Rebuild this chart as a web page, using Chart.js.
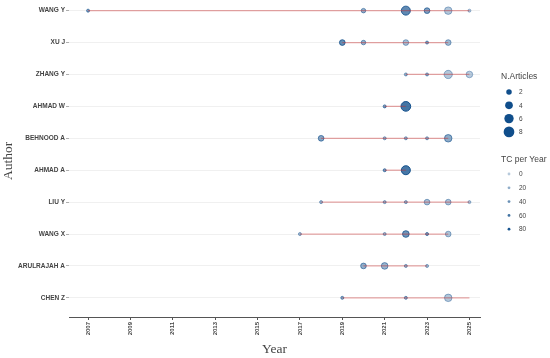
<!DOCTYPE html>
<html>
<head>
<meta charset="utf-8">
<script src="https://cdn.jsdelivr.net/npm/chart.js@4.4.1/dist/chart.umd.min.js"></script>
<style>
  html, body { margin: 0; padding: 0; background: #fff; }
  #wrap { width: 550px; height: 358px; }
</style>
</head>
<body>
<div id="wrap"><canvas id="chart" width="550" height="358"></canvas></div>
<script>
// Data
const authors = ['WANG Y', 'XU J', 'ZHANG Y', 'AHMAD W', 'BEHNOOD A', 'AHMAD A', 'LIU Y', 'WANG X', 'ARULRAJAH A', 'CHEN Z'];

const yearsByAuthor = [
    [2007, 2020, 2022, 2023, 2024, 2025],
    [2019, 2020, 2022, 2023, 2024],
    [2022, 2023, 2024, 2025],
    [2021, 2022],
    [2018, 2021, 2022, 2023, 2024],
    [2021, 2022],
    [2018, 2021, 2022, 2023, 2024, 2025],
    [2017, 2021, 2022, 2023, 2024],
    [2020, 2021, 2022, 2023],
    [2019, 2022, 2024]
];

const articlesByAuthor = [
    [1, 2, 7, 3, 5, 1],
    [3, 2, 3, 1, 3],
    [1, 1, 6, 4],
    [1, 8],
    [3, 1, 1, 1, 5],
    [1, 7],
    [1, 1, 1, 3, 3, 1],
    [1, 1, 4, 1, 3],
    [3, 4, 1, 1],
    [1, 1, 5]
];

const tcPerYearByAuthor = [
    [40, 30, 65, 45, 12, 8],
    [60, 30, 18, 35, 22],
    [25, 28, 12, 8],
    [45, 82],
    [40, 25, 25, 25, 35],
    [45, 80],
    [22, 25, 25, 18, 15, 10],
    [20, 22, 55, 45, 14],
    [32, 28, 25, 20],
    [35, 32, 12]
];

// first and last year of each author's red line
const lineStart = [2007, 2019, 2022, 2021, 2018, 2021, 2018, 2017, 2020, 2019];
const lineEnd = [2025, 2024, 2025, 2022, 2024, 2022, 2025, 2024, 2023, 2025];

const yearTicks = [2007, 2009, 2011, 2013, 2015, 2017, 2019, 2021, 2023, 2025];
const articleLegend = [2, 4, 6, 8];
const tcLegend = [0, 20, 40, 60, 80];

// Mappings (size ~ sqrt of articles, alpha ~ TC per year)
const BLUE = '16, 78, 139';
function radiusFor(n) {
    return 0.17 + 1.83 * Math.sqrt(n) - 0.5;
}
function alphaFor(tc) {
    return Math.min(1, 0.3 + 0.7 * tc / 85);
}
function blue(a) {
    return `rgba(${BLUE}, ${a})`;
}

// Build datasets
const lineSets = authors.map((name, i) => ({
    type: 'line',
    label: name,
    data: [{ x: lineStart[i], y: i }, { x: lineEnd[i], y: i }],
    borderColor: 'rgba(200, 45, 45, 0.42)',
    borderWidth: 1.3,
    pointRadius: 0,
    order: 0
}));

const points = [];
authors.forEach((name, i) => {
    yearsByAuthor[i].forEach((yr, j) => {
        points.push({ x: yr, y: i, n: articlesByAuthor[i][j], tc: tcPerYearByAuthor[i][j] });
    });
});

const pointSet = {
    type: 'scatter',
    label: 'points',
    data: points,
    pointRadius: ctx => radiusFor(ctx.raw.n),
    pointBackgroundColor: ctx => blue(alphaFor(ctx.raw.tc) * 0.8),
    pointBorderColor: ctx => blue(alphaFor(ctx.raw.tc)),
    pointBorderWidth: 1,
    order: 1
};

// Legend drawn on the right side
const sideLegend = {
    id: 'sideLegend',
    afterDraw(chart) {
        const c = chart.ctx;
        c.save();
        c.fillStyle = '#444';
        c.textBaseline = 'middle';
        c.textAlign = 'left';
        c.font = '8.5px "Liberation Sans", Arial, sans-serif';
        c.fillText('N.Articles', 501, 77);
        c.font = '6.5px "Liberation Sans", Arial, sans-serif';
        articleLegend.forEach((n, k) => {
            const y = 92 + k * 13.3;
            c.beginPath();
            c.arc(509, y, radiusFor(n) + 0.5, 0, Math.PI * 2);
            c.fillStyle = blue(1);
            c.fill();
            c.fillStyle = '#444';
            c.fillText(String(n), 519, y + 0.5);
        });

        c.font = '8.5px "Liberation Sans", Arial, sans-serif';
        c.fillText('TC per Year', 501, 160);
        c.font = '6.5px "Liberation Sans", Arial, sans-serif';
        tcLegend.forEach((tc, k) => {
            const y = 174 + k * 13.8;
            c.beginPath();
            c.arc(509, y, 1.4, 0, Math.PI * 2);
            c.fillStyle = blue(alphaFor(tc));
            c.fill();
            c.fillStyle = '#444';
            c.fillText(String(tc), 519, y + 0.5);
        });
        c.restore();
    }
};

new Chart(document.getElementById('chart'), {
    type: 'scatter',
    data: { datasets: [...lineSets, pointSet] },
    options: {
        responsive: false,
        animation: false,
        layout: { autoPadding: false, padding: { left: 0, right: 70, top: 0, bottom: 0 } },
        plugins: {
            legend: { display: false },
            tooltip: { enabled: false }
        },
        scales: {
            x: {
                type: 'linear',
                min: 2006.1,
                max: 2025.5,
                afterBuildTicks: s => { s.ticks = yearTicks.map(v => ({ value: v })); },
                afterFit: s => { s.height = 41; },
                ticks: {
                    autoSkip: false,
                    minRotation: 90,
                    maxRotation: 90,
                    padding: 2,
                    color: '#444',
                    font: { family: '"Liberation Sans", Arial, sans-serif', size: 6, weight: 'bold' },
                    callback: v => String(v)
                },
                grid: { drawOnChartArea: false, drawTicks: true, tickLength: 3, tickColor: '#555' },
                border: { display: true, color: '#555', width: 1 },
                title: {
                    display: true,
                    text: 'Year',
                    color: '#444',
                    padding: 0,
                    font: { family: '"Liberation Serif", serif', size: 13.5 }
                }
            },
            y: {
                type: 'linear',
                reverse: true,
                min: -0.18,
                max: 9.6,
                afterBuildTicks: s => { s.ticks = authors.map((a, i) => ({ value: i })); },
                afterFit: s => { s.width = 69; },
                ticks: {
                    autoSkip: false,
                    padding: 1,
                    color: '#444',
                    font: { family: '"Liberation Sans", Arial, sans-serif', size: 6.5, weight: 'bold' },
                    callback: v => authors[v]
                },
                grid: { color: '#ececec', lineWidth: 0.8, tickLength: 3, tickColor: '#999' },
                border: { display: false },
                title: {
                    display: true,
                    text: 'Author',
                    color: '#444',
                    padding: 0,
                    font: { family: '"Liberation Serif", serif', size: 13.5 }
                }
            }
        }
    },
    plugins: [sideLegend]
});
</script>
</body>
</html>
